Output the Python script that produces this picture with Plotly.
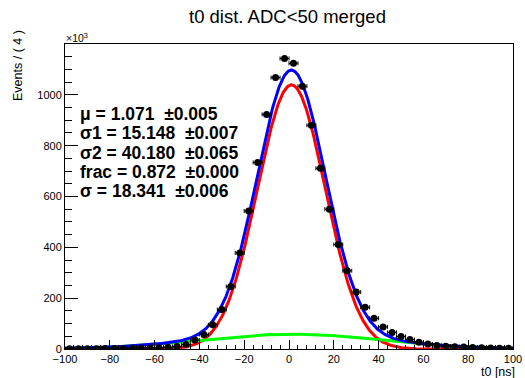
import math
import numpy as np
import plotly.graph_objects as go

# ---------------- data (y in units of 10^3) -------------
bin_centers = [-98, -94, -90, -86, -82, -78, -74, -70, -66, -62, -58, -54, -50, -46, -42,
               -38, -34, -30, -26, -22, -18, -14, -10, -6, -2,
               2, 6, 10, 14, 18, 22, 26, 30, 34, 38, 42, 46, 50, 54, 58,
               62, 66, 70, 74, 78, 82, 86, 90, 94, 98]
events = [1, 1, 1, 1, 2, 2, 2, 3, 3, 4, 5, 7, 10, 18, 35,
          57, 95, 155, 246, 378, 543, 734, 923, 1068, 1143,
          1124, 1034, 880, 711, 550, 411, 308, 224, 164, 121, 87, 65, 49, 37, 27,
          20, 14, 11, 9, 8, 6, 5, 4, 3, 3]
bin_width = 4.0
x_range = [-100, 100]

# fit parameters shown in the chart
mu = 1.071
sigma1 = 15.148
sigma2 = 40.180
frac = 0.872

param_labels = ["\u03bc = 1.071", "\u03c31 = 15.148", "\u03c32 = 40.180",
                "frac = 0.872", "\u03c3 = 18.341"]
param_errors = ["\u00b10.005", "\u00b10.007", "\u00b10.065", "\u00b10.000", "\u00b10.006"]

x_ticks = [-100, -80, -60, -40, -20, 0, 20, 40, 60, 80, 100]
y_ticks = [0, 200, 400, 600, 800, 1000]

# ---------------- fit model curves (from the displayed parameters) ----------------
def gauss_norm(x, m, s):
    lo, hi = x_range
    area = 0.5 * (math.erf((hi - m) / (s * math.sqrt(2))) - math.erf((lo - m) / (s * math.sqrt(2))))
    return np.exp(-0.5 * ((x - m) / s) ** 2) / (s * math.sqrt(2 * math.pi)) / area

n_total = float(sum(events))
xs = np.linspace(x_range[0], x_range[1], 801)
core = n_total * bin_width * frac * gauss_norm(xs, mu, sigma1)
wide = n_total * bin_width * (1 - frac) * gauss_norm(xs, mu, sigma2)
total = core + wide

FONT = "Liberation Sans, Arial, Helvetica, sans-serif"

fig = go.Figure()
fig.add_trace(go.Scatter(x=xs, y=core, mode="lines", line=dict(color="#ff0000", width=3),
                         hoverinfo="skip", showlegend=False))
fig.add_trace(go.Scatter(x=xs, y=wide, mode="lines", line=dict(color="#00ff00", width=3),
                         hoverinfo="skip", showlegend=False))
fig.add_trace(go.Scatter(x=xs, y=total, mode="lines", line=dict(color="#0000ff", width=3),
                         hoverinfo="skip", showlegend=False))
fig.add_trace(go.Scatter(
    x=bin_centers, y=events, mode="markers",
    marker=dict(color="black", size=7),
    error_x=dict(type="constant", value=bin_width / 2, thickness=1, width=2, color="black"),
    error_y=dict(type="data", array=[math.sqrt(v * 1000) / 1000 for v in events],
                 thickness=1, width=0, color="black"),
    showlegend=False))

# ---------------- layout ----------------
W, H = 525, 378
ml, mr, mt, mb = 65, 12, 44, 29
pw, ph = W - ml - mr, H - mt - mb

def px_x(px):
    return (px - ml) / pw

def px_y(py):
    return (H - mb - py) / ph

fig.update_layout(
    width=W, height=H,
    margin=dict(l=ml, r=mr, t=mt, b=mb, pad=0, autoexpand=False),
    paper_bgcolor="white", plot_bgcolor="white",
    font=dict(family=FONT, color="black", size=11),
    showlegend=False,
)
fig.update_xaxes(
    range=x_range, tickvals=x_ticks, ticks="inside", ticklen=9, tickwidth=1,
    tickcolor="black", showline=True, linecolor="black", linewidth=1, mirror=True,
    showgrid=False, zeroline=False, tickfont=dict(size=11, family=FONT), automargin=False,
    minor=dict(dtick=4, tick0=0, ticks="inside", ticklen=4.5, tickcolor="black", showgrid=False),
)
fig.update_yaxes(
    range=[0, 1200], tickvals=y_ticks, ticks="inside", ticklen=13, tickwidth=1,
    tickcolor="black", showline=True, linecolor="black", linewidth=1, mirror=True,
    showgrid=False, zeroline=False, tickfont=dict(size=11, family=FONT), automargin=False,
    minor=dict(dtick=50, tick0=0, ticks="inside", ticklen=6.5, tickcolor="black", showgrid=False),
)

ann = []
ann.append(dict(text="t0 dist. ADC&lt;50 merged", xref="paper", yref="paper",
                x=px_x(287), y=px_y(17), xanchor="center", yanchor="middle",
                showarrow=False, font=dict(size=18.5, family=FONT)))
ann.append(dict(text="\u00d710<sup>3</sup>", xref="paper", yref="paper",
                x=px_x(64), y=px_y(37), xanchor="left", yanchor="middle",
                showarrow=False, font=dict(size=10.5, family=FONT)))
ann.append(dict(text="Events / ( 4 )", xref="paper", yref="paper",
                x=px_x(18), y=px_y(66), xanchor="center", yanchor="middle", textangle=-90,
                showarrow=False, font=dict(size=12.5, family=FONT)))
ann.append(dict(text="t0 [ns]", xref="paper", yref="paper",
                x=px_x(498), y=px_y(372), xanchor="center", yanchor="middle",
                showarrow=False, font=dict(size=12.5, family=FONT)))

line_y = [114, 133, 152.5, 172, 191]
for lab, err, yy in zip(param_labels, param_errors, line_y):
    ann.append(dict(text="<b>%s&nbsp;&nbsp;%s</b>" % (lab, err), xref="paper", yref="paper",
                    x=px_x(78), y=px_y(yy), xanchor="left", yanchor="middle",
                    showarrow=False, font=dict(size=17.5, family=FONT)))
fig.update_layout(annotations=ann)

fig.write_html("out.html")
